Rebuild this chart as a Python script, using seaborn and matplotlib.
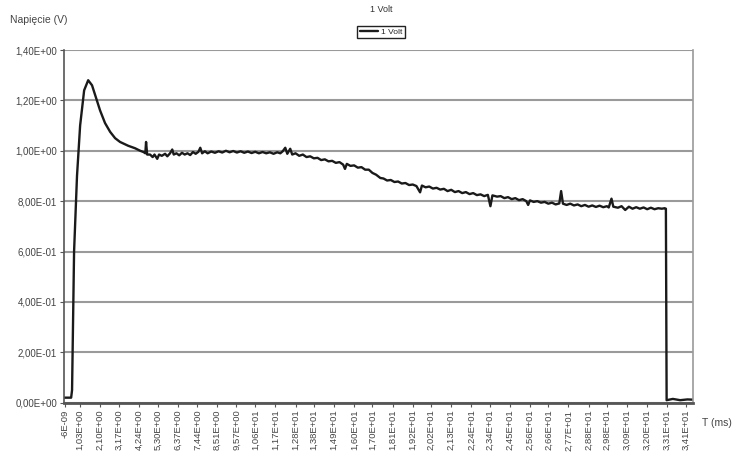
import numpy as np
import pandas as pd
import matplotlib
matplotlib.use("Agg")
import matplotlib.pyplot as plt
import seaborn as sns

# time (ms) and voltage (V)
t_ms = [0.16, 0.55, 0.60, 0.71, 0.87, 1.04, 1.26, 1.48, 1.69, 1.91,
        2.13, 2.40, 2.68, 2.95, 3.22, 3.66, 4.04, 4.32, 4.50, 4.60,
        4.64, 4.70, 4.86, 5.00, 5.10, 5.25, 5.35, 5.50, 5.68, 5.80,
        5.95, 6.07, 6.15, 6.30, 6.45, 6.60, 6.75, 6.90, 7.05, 7.20,
        7.35, 7.50, 7.60, 7.70, 7.85, 8.00, 8.20, 8.40, 8.60, 8.80,
        9.00, 9.20, 9.40, 9.60, 9.80, 10.0, 10.2, 10.4, 10.6, 10.8,
        11.0, 11.2, 11.4, 11.6, 11.8, 11.97, 12.10, 12.24, 12.35, 12.51,
        12.62, 12.80, 13.0, 13.2, 13.4, 13.6, 13.8, 14.0, 14.2, 14.4,
        14.6, 14.8, 15.0, 15.2, 15.4, 15.5, 15.6, 15.8, 16.0, 16.2,
        16.4, 16.6, 16.8, 17.0, 17.2, 17.43, 17.6, 17.8, 18.0, 18.2,
        18.4, 18.6, 18.8, 19.0, 19.2, 19.4, 19.6, 19.7, 19.9, 20.1,
        20.3, 20.5, 20.7, 20.9, 21.1, 21.3, 21.5, 21.7, 21.9, 22.1,
        22.3, 22.5, 22.7, 22.9, 23.1, 23.3, 23.44, 23.55, 23.8, 24.0,
        24.2, 24.4, 24.6, 24.8, 25.0, 25.2, 25.4, 25.5, 25.6, 25.8,
        26.0, 26.2, 26.4, 26.6, 26.8, 27.0, 27.2, 27.3, 27.4, 27.6,
        27.8, 28.0, 28.2, 28.4, 28.6, 28.8, 29.0, 29.2, 29.4, 29.6,
        29.8, 29.9, 30.05, 30.15, 30.4, 30.6, 30.8, 31.0, 31.2, 31.4,
        31.6, 31.8, 32.0, 32.2, 32.4, 32.6, 32.8, 32.95, 33.02, 33.06,
        33.4, 33.8, 34.2, 34.5]
volts = [0.02, 0.02, 0.05, 0.60, 0.90, 1.10, 1.24, 1.28, 1.26, 1.21,
         1.16, 1.11, 1.075, 1.05, 1.035, 1.02, 1.01, 1.00, 0.995, 0.99,
         1.035, 0.985, 0.985, 0.975, 0.985, 0.968, 0.985, 0.98, 0.988, 0.978,
         0.99, 1.005, 0.985, 0.99, 0.982, 0.992, 0.985, 0.99, 0.983, 0.995,
         0.988, 0.996, 1.012, 0.99, 0.998, 0.99, 0.997, 0.992, 0.998, 0.993,
         1.0, 0.994, 0.999, 0.993, 0.998, 0.992, 0.997, 0.991, 0.996, 0.99,
         0.995, 0.99, 0.994, 0.988, 0.994, 0.99, 0.998, 1.012, 0.988, 1.008,
         0.985, 0.99, 0.98, 0.985, 0.975, 0.978, 0.97, 0.972, 0.963, 0.966,
         0.958, 0.96, 0.952, 0.955, 0.945, 0.928, 0.948, 0.94, 0.942, 0.933,
         0.935, 0.925, 0.925, 0.912, 0.905, 0.892, 0.89, 0.882, 0.884, 0.876,
         0.878, 0.87, 0.872, 0.864, 0.866, 0.86, 0.835, 0.862, 0.855, 0.858,
         0.85, 0.853, 0.846, 0.849, 0.84, 0.845, 0.836, 0.84, 0.832, 0.836,
         0.828, 0.832, 0.824, 0.827, 0.82, 0.825, 0.78, 0.823, 0.818, 0.82,
         0.812, 0.816, 0.808, 0.812, 0.804, 0.808, 0.80, 0.785, 0.803, 0.797,
         0.80, 0.794, 0.797, 0.79, 0.794, 0.787, 0.791, 0.84, 0.79, 0.785,
         0.79, 0.783, 0.787, 0.78, 0.785, 0.778, 0.783, 0.777, 0.782, 0.776,
         0.78, 0.775, 0.81, 0.778, 0.774, 0.78, 0.765, 0.778, 0.77, 0.776,
         0.77, 0.775, 0.768, 0.774, 0.768, 0.772, 0.77, 0.772, 0.77, 0.01,
         0.015, 0.01, 0.013, 0.012]

x_labels = ["-6E-09", "1,03E+00", "2,10E+00", "3,17E+00", "4,24E+00", "5,30E+00",
            "6,37E+00", "7,44E+00", "8,51E+00", "9,57E+00", "1,06E+01", "1,17E+01",
            "1,28E+01", "1,38E+01", "1,49E+01", "1,60E+01", "1,70E+01", "1,81E+01",
            "1,92E+01", "2,02E+01", "2,13E+01", "2,24E+01", "2,34E+01", "2,45E+01",
            "2,56E+01", "2,66E+01", "2,77E+01", "2,88E+01", "2,98E+01", "3,09E+01",
            "3,20E+01", "3,31E+01", "3,41E+01"]
y_ticks = [0.0, 0.2, 0.4, 0.6, 0.8, 1.0, 1.2, 1.4]
y_labels = ["0,00E+00", "2,00E-01", "4,00E-01", "6,00E-01",
            "8,00E-01", "1,00E+00", "1,20E+00", "1,40E+00"]

assert len(t_ms) == len(volts)
df = pd.DataFrame({"t": t_ms, "v": volts})

sns.set_style("white")
plt.rcParams["font.family"] = ["Liberation Sans", "DejaVu Sans"]

t_min, t_max = 0.16, 34.5

fig = plt.figure(figsize=(7.42, 4.54), dpi=100)
ax = fig.add_axes([64 / 742, 1 - 402.7 / 454, (693 - 64) / 742, (402.7 - 50) / 454])

sns.lineplot(data=df, x="t", y="v", ax=ax, color="#1a1a1a", lw=1.7,
             estimator=None, sort=False, label="1 Volt", legend=False)

ax.set_xlim(t_min, t_max)
ax.set_ylim(0, 1.4)

# y axis
ax.set_yticks(y_ticks)
ax.set_yticklabels(y_labels, fontsize=7, color="#444444")
ax.yaxis.grid(True, color="#9a9a9a", lw=1.5)
ax.set_axisbelow(True)

# x axis: category-like labels, first one sits at the left edge
x_pos = [max(float(s.replace(",", ".")), t_min + 0.05) for s in x_labels]
ax.set_xticks(x_pos)
ax.set_xticklabels(x_labels, rotation=90, fontsize=6.8, color="#444444")
ax.tick_params(axis="both", length=3, width=0.8, color="#555555", pad=2,
               bottom=True, left=True)

ax.set_xlabel("")
ax.set_ylabel("")
for side in ["left", "bottom"]:
    ax.spines[side].set_color("#555555")
ax.spines["left"].set_linewidth(1.2)
ax.spines["bottom"].set_linewidth(2.0)
ax.spines["right"].set_color("#9a9a9a")
ax.spines["right"].set_linewidth(1.2)
ax.spines["top"].set_visible(False)

fig.text(381 / 742, 1 - 9 / 454, "1 Volt", ha="center", va="center",
         fontsize=6.5, color="#333333")
handles, labels = ax.get_legend_handles_labels()
fig.legend(handles, labels, loc="center", bbox_to_anchor=(381 / 742, 1 - 32 / 454),
           fontsize=6, frameon=True, fancybox=False, edgecolor="#222222",
           handlelength=2.2, handletextpad=0.3, borderpad=0.3,
           framealpha=1)

fig.text(10 / 742, 1 - 20 / 454, "Napięcie (V)", ha="left", va="center",
         fontsize=7.5, color="#444444")
fig.text(702 / 742, 1 - 423 / 454, "T (ms)", ha="left", va="center",
         fontsize=7.5, color="#444444")

fig.savefig("out.png", dpi=100, facecolor="white")
